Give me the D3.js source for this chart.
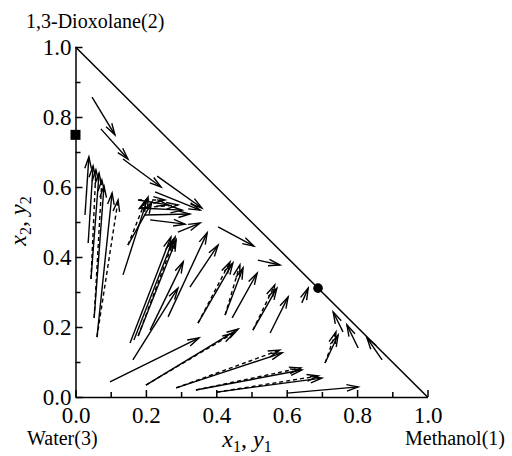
<!DOCTYPE html>
<html>
<head>
<meta charset="utf-8">
<script src="https://cdn.jsdelivr.net/npm/d3@7"></script>
<style>
  body { margin: 0; background: #fff; }
  svg text { font-family: "Liberation Serif", "Times New Roman", serif; fill: #000; }
  .axis path, .axis line { stroke: #000; stroke-width: 1.5; }
  .axis text { font-size: 23px; font-family: "Liberation Serif", serif; }
</style>
</head>
<body>
<div id="display"></div>
<script>
// liquid composition (tail) -> vapour composition (head), experimental
const liqX1 = [0.047, 0.072, 0.135, 0.232, 0.226, 0.405, 0.518,
               0.027, 0.036, 0.044, 0.053, 0.061,
               0.135, 0.178, 0.183, 0.197, 0.212, 0.149, 0.291,
               0.155, 0.166, 0.178, 0.163, 0.212, 0.263, 0.325,
               0.348, 0.425, 0.445, 0.504, 0.553, 0.643,
               0.760, 0.803, 0.871, 0.709,
               0.098, 0.200, 0.286, 0.342, 0.402, 0.601]
const liqX2 = [0.857, 0.766, 0.680, 0.631, 0.586, 0.486, 0.391,
               0.520, 0.440, 0.337, 0.226, 0.171,
               0.349, 0.563, 0.540, 0.520, 0.506, 0.434, 0.471,
               0.154, 0.163, 0.174, 0.106, 0.191, 0.229, 0.314,
               0.211, 0.234, 0.226, 0.191, 0.183, 0.269,
               0.186, 0.140, 0.106, 0.097,
               0.043, 0.034, 0.026, 0.020, 0.014, 0.011]
const vapY1 = [0.112, 0.149, 0.243, 0.359, 0.354, 0.507, 0.581,
               0.038, 0.050, 0.067, 0.081, 0.104,
               0.206, 0.263, 0.303, 0.325, 0.311, 0.217, 0.354,
               0.271, 0.277, 0.286, 0.291, 0.306, 0.374, 0.405,
               0.447, 0.476, 0.516, 0.572, 0.604, 0.661,
               0.732, 0.771, 0.828, 0.746,
               0.351, 0.462, 0.587, 0.643, 0.700, 0.803]
const vapY2 = [0.749, 0.680, 0.600, 0.540, 0.534, 0.431, 0.377,
               0.686, 0.660, 0.640, 0.603, 0.583,
               0.571, 0.549, 0.534, 0.523, 0.494, 0.557, 0.497,
               0.457, 0.449, 0.449, 0.311, 0.386, 0.469, 0.434,
               0.383, 0.369, 0.354, 0.311, 0.286, 0.311,
               0.243, 0.206, 0.169, 0.177,
               0.169, 0.194, 0.126, 0.077, 0.054, 0.029]

// calculated vapour composition (dashed), index into the experimental points
const calcIdx = [9, 10, 11, 13, 14, 17, 21, 26, 27, 29, 35, 37, 38, 39, 40]
const calcY1  = [0.058, 0.075, 0.121, 0.254, 0.291, 0.200, 0.283, 0.439, 0.467, 0.566, 0.740, 0.450, 0.580, 0.640, 0.690]
const calcY2  = [0.649, 0.620, 0.563, 0.563, 0.549, 0.563, 0.457, 0.386, 0.377, 0.320, 0.186, 0.183, 0.134, 0.083, 0.060]

const azeo = [0.689, 0.311]   // point on the methanol-dioxolane edge
const binPt = [0, 0.749]      // point on the water-dioxolane edge

const majorTicks = [0, 0.2, 0.4, 0.6, 0.8, 1.0]
const minorTicks = [0.1, 0.3, 0.5, 0.7, 0.9]

const width = 512, height = 456
const svg = d3.select("#display").append("svg")
    .attr("width", width).attr("height", height)

const x = d3.scaleLinear().domain([0, 1]).range([75.5, 427.5])
const y = d3.scaleLinear().domain([0, 1]).range([397, 47])

// axes
const gY = svg.append("g").attr("class", "axis").attr("transform", `translate(${x(0)},0)`)
gY.call(d3.axisLeft(y).tickValues(majorTicks).tickFormat(d3.format(".1f")).tickSizeInner(-7).tickSizeOuter(0).tickPadding(4))
const gYm = svg.append("g").attr("class", "axis").attr("transform", `translate(${x(0)},0)`)
gYm.call(d3.axisLeft(y).tickValues(minorTicks).tickFormat("").tickSizeInner(-5).tickSizeOuter(0))
gYm.select(".domain").remove()

const gX = svg.append("g").attr("class", "axis").attr("transform", `translate(0,${y(0)})`)
gX.call(d3.axisBottom(x).tickValues(majorTicks).tickFormat(d3.format(".1f")).tickSizeInner(-7).tickSizeOuter(0).tickPadding(10))
const gXm = svg.append("g").attr("class", "axis").attr("transform", `translate(0,${y(0)})`)
gXm.call(d3.axisBottom(x).tickValues(minorTicks).tickFormat("").tickSizeInner(-5).tickSizeOuter(0))
gXm.select(".domain").remove()

// hypotenuse
svg.append("line")
    .attr("x1", x(0)).attr("y1", y(1)).attr("x2", x(1)).attr("y2", y(0))
    .attr("stroke", "#000").attr("stroke-width", 1.5)

function drawArrow(g, x1, y1, x2, y2, dashed) {
    const px1 = x(x1), py1 = y(y1), px2 = x(x2), py2 = y(y2)
    const ang = Math.atan2(py2 - py1, px2 - px1)
    const len = 12, spread = 0.28
    const path = d3.path()
    path.moveTo(px1, py1)
    path.lineTo(px2, py2)
    g.append("path").attr("d", path.toString())
        .attr("fill", "none").attr("stroke", "#000").attr("stroke-width", 1.4)
        .attr("stroke-dasharray", dashed ? "4,3" : null)
    const head = d3.path()
    head.moveTo(px2 - len * Math.cos(ang - spread), py2 - len * Math.sin(ang - spread))
    head.lineTo(px2, py2)
    head.lineTo(px2 - len * Math.cos(ang + spread), py2 - len * Math.sin(ang + spread))
    g.append("path").attr("d", head.toString())
        .attr("fill", "none").attr("stroke", "#000").attr("stroke-width", 1.4)
}

const gArr = svg.append("g")
liqX1.forEach((d, i) => drawArrow(gArr, d, liqX2[i], vapY1[i], vapY2[i], false))
calcIdx.forEach((k, j) => drawArrow(gArr, liqX1[k], liqX2[k], calcY1[j], calcY2[j], true))

// special points
svg.append("rect")
    .attr("x", x(binPt[0]) - 5).attr("y", y(binPt[1]) - 5)
    .attr("width", 10).attr("height", 10).attr("fill", "#000")
svg.append("circle")
    .attr("cx", x(azeo[0])).attr("cy", y(azeo[1])).attr("r", 4.8).attr("fill", "#000")

// labels
svg.append("text").attr("x", 26).attr("y", 28).attr("font-size", 20).text("1,3-Dioxolane(2)")
svg.append("text").attr("x", 27).attr("y", 445).attr("font-size", 20).text("Water(3)")
svg.append("text").attr("x", 405).attr("y", 445).attr("font-size", 20).text("Methanol(1)")

const xt = svg.append("text").attr("x", 247).attr("y", 447).attr("text-anchor", "middle")
    .attr("font-size", 24).attr("font-style", "italic")
xt.append("tspan").text("x")
xt.append("tspan").attr("font-size", 16).attr("dy", 5).attr("font-style", "normal").text("1")
xt.append("tspan").attr("dy", -5).attr("font-style", "normal").text(", ")
xt.append("tspan").text("y")
xt.append("tspan").attr("font-size", 16).attr("dy", 5).attr("font-style", "normal").text("1")

const yt = svg.append("text").attr("transform", "translate(26,221) rotate(-90)").attr("text-anchor", "middle")
    .attr("font-size", 24).attr("font-style", "italic")
yt.append("tspan").text("x")
yt.append("tspan").attr("font-size", 16).attr("dy", 5).attr("font-style", "normal").text("2")
yt.append("tspan").attr("dy", -5).attr("font-style", "normal").text(", ")
yt.append("tspan").text("y")
yt.append("tspan").attr("font-size", 16).attr("dy", 5).attr("font-style", "normal").text("2")
</script>
</body>
</html>
